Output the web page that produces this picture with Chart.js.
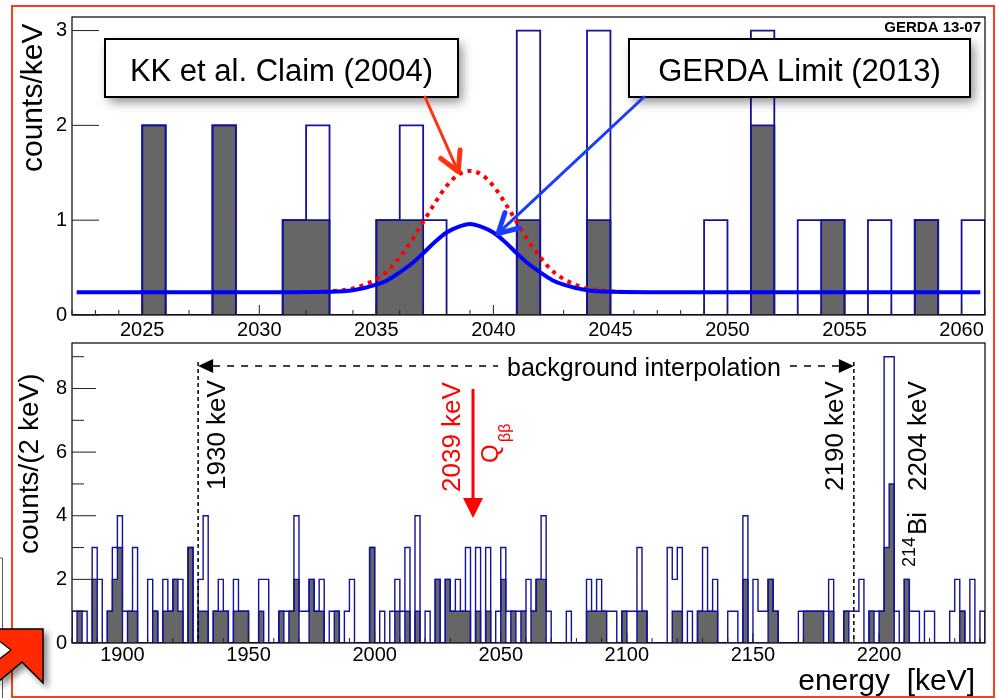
<!DOCTYPE html>
<html>
<head>
<meta charset="utf-8">
<title>GERDA 13-07</title>
<script src="https://cdn.jsdelivr.net/npm/chart.js@4.4.0/dist/chart.umd.min.js"></script>
<style>
  html, body { margin: 0; padding: 0; background: #fff; }
  #wrap { position: relative; width: 996px; height: 698px; overflow: hidden; }
  #wrap canvas { position: absolute; left: 0; top: 0; }
  #frame { position: absolute; left: 11px; top: 5px; width: 984px; height: 693px; box-sizing: border-box; border: 2.5px solid #ff3b1f; }
  #corner { position: absolute; left: 0; top: 540px; }
</style>
</head>
<body>
<div id="wrap">
  <canvas id="upper" width="996" height="698"></canvas>
  <canvas id="lower" width="996" height="698"></canvas>
  <div id="frame"></div>
  <svg id="corner" width="64" height="158" viewBox="0 0 64 158">
    <defs>
      <filter id="sh" x="-30%" y="-30%" width="180%" height="180%">
        <feDropShadow dx="4" dy="4" stdDeviation="3" flood-color="#000" flood-opacity="0.45"/>
      </filter>
    </defs>
    <polyline points="0,18 2.5,18 2.5,158" fill="none" stroke="#555" stroke-width="1"/>
    <polygon points="-2,89 43,89 43,143 22,122 -2,142" fill="#ff2a00" stroke="#000" stroke-width="1.5" filter="url(#sh)"/>
    <polygon points="-2,100 11,110 -2,120" fill="#fff" stroke="#000" stroke-width="1.2"/>
  </svg>
</div>
<script>
const FONT = "'Liberation Sans', Arial, Helvetica, sans-serif";
const NAVY = '#12129a';

// zoomed window around Q_bb, 1 keV bins
const zoomLo = 2022, zoomHi = 2061, zoomBin = 1;
const zoomAll = [0,0,0,2,0,0,2,0,0,1,2,0,0,1,2,1,0,0,0,3,0,0,3,0,0,0,0,1,0,3,0,1,1,0,1,0,1,0,1];
const zoomPSD = [0,0,0,2,0,0,2,0,0,1,1,0,0,1,1,0,0,0,0,1,0,0,1,0,0,0,0,0,0,2,0,0,1,0,0,0,1,0,0];

// full spectrum, 2 keV bins
const fullLo = 1880, fullHi = 2242, fullBin = 2;
const fullAll = [
  1,1,1,0,3,2,0,1,3,4, 1,1,3,0,0,2,1,0,2,1, 2,2,0,3,0,2,4,0,1,2, 1,0,2,1,1,0,0,2,2,0,
  0,1,1,1,4,1,1,2,1,2, 0,1,1,0,1,2,0,0,0,3, 0,1,0,1,2,1,3,0,4,0, 1,0,2,0,2,1,2,1,3,0,
  3,0,3,0,1,3,1,1,1,1, 2,1,2,4,1,0,0,0,1,0, 0,0,2,1,2,1,1,1,0,1, 1,1,3,1,0,0,0,0,3,2,
  3,0,1,0,1,3,1,2,0,0, 1,1,0,4,0,2,1,1,2,1, 0,0,0,0,1,1,1,1,1,1, 2,0,0,1,1,1,2,0,1,1,
  1,9,9,1,0,2,1,1,0,1, 1,0,0,0,1,2,1,0,2,0,1
];
const fullPSD = [
  0,1,0,0,2,0,0,1,2,3, 0,1,1,0,0,0,1,0,1,1, 2,1,0,3,0,1,1,0,1,1, 1,0,1,1,1,0,0,1,0,0,
  0,1,0,1,2,0,0,2,1,1, 0,0,1,0,0,0,0,0,0,3, 0,0,0,0,1,0,1,0,1,0, 0,0,2,0,2,1,1,1,1,0,
  1,0,1,0,0,2,0,1,0,1, 0,1,2,2,0,0,0,0,0,0, 0,0,1,1,1,1,0,0,0,1, 0,0,1,1,0,0,0,0,0,1,
  1,0,0,0,1,1,1,1,0,0, 0,0,0,2,0,0,0,0,2,1, 0,0,0,0,0,1,1,1,1,0, 1,0,0,1,0,0,0,0,1,0,
  1,3,5,0,0,2,0,0,0,0, 0,0,0,0,0,0,1,0,0,0,0
];

// background + signal expectations, counts/keV
const limitE = [2022.2,2030,2033,2034,2035,2035.5,2036,2036.5,2037,2037.5,2038,2038.5,2039,2039.5,2040,2040.5,2041,2041.5,2042,2042.5,2043,2044,2045,2048,2060.8];
const limitY = [0.24,0.24,0.245,0.26,0.32,0.37,0.45,0.54,0.65,0.77,0.87,0.93,0.96,0.93,0.87,0.77,0.65,0.54,0.45,0.37,0.32,0.26,0.245,0.24,0.24];
const claimE = [2032,2033,2034,2034.5,2035,2035.5,2036,2036.5,2037,2037.5,2038,2038.5,2039,2039.5,2040,2040.5,2041,2041.5,2042,2042.5,2043,2043.5,2044,2045,2046];
const claimY = [0.24,0.25,0.28,0.32,0.38,0.47,0.61,0.78,0.98,1.18,1.36,1.48,1.52,1.48,1.36,1.18,0.98,0.78,0.61,0.47,0.38,0.32,0.28,0.25,0.24];

const zoomTicks = [2025, 2030, 2035, 2040, 2045, 2050, 2055, 2060];
const zoomCountTicks = [0, 1, 2, 3];
const fullTicks = [1900, 1950, 2000, 2050, 2100, 2150, 2200];
const fullCountTicks = [0, 2, 4, 6, 8];
const fullCountMinor = [1, 3, 5, 7, 9];

Chart.defaults.font.family = FONT;
Chart.defaults.color = '#000';

// histogram outline as a stepped line: value i holds over [lo+i*w, lo+(i+1)*w]
function steps(lo, w, counts) {
  const pts = [{ x: lo, y: 0 }];
  counts.forEach((c, i) => pts.push({ x: lo + i * w, y: c }));
  pts.push({ x: lo + counts.length * w, y: 0 });
  return pts;
}
const pairs = (xs, ys) => xs.map((v, i) => ({ x: v, y: ys[i] }));

function histSets(lo, w, all, psd, width) {
  return [
    { data: steps(lo, w, all), stepped: true, borderColor: NAVY, borderWidth: width,
      pointRadius: 0, fill: false, order: 2 },
    { data: steps(lo, w, psd), stepped: true, borderColor: NAVY, borderWidth: width,
      backgroundColor: '#666666', pointRadius: 0, fill: 'origin', order: 3 }
  ];
}

// frame + inward ROOT style ticks
const frameTicks = {
  id: 'frameTicks',
  afterDatasetsDraw(chart, args, o) {
    const { ctx, chartArea: a, scales: { x, y } } = chart;
    ctx.save();
    ctx.strokeStyle = '#000';
    ctx.lineWidth = 1.2;
    ctx.strokeRect(a.left, a.top, a.right - a.left, a.bottom - a.top);
    ctx.strokeStyle = '#222';
    ctx.lineWidth = 1;
    ctx.beginPath();
    o.yMajor.forEach(v => { const p = y.getPixelForValue(v); ctx.moveTo(a.left, p); ctx.lineTo(a.left + o.yMajorLen, p); });
    o.yMinor.forEach(v => { const p = y.getPixelForValue(v); ctx.moveTo(a.left, p); ctx.lineTo(a.left + o.yMinorLen, p); });
    for (let v = Math.ceil(x.min / o.xMinorStep) * o.xMinorStep; v <= x.max; v += o.xMinorStep) {
      const p = x.getPixelForValue(v);
      const len = o.xMajor.includes(v) ? o.xMajorLen : o.xMinorLen;
      ctx.moveTo(p, a.bottom);
      ctx.lineTo(p, a.bottom - len);
    }
    ctx.stroke();
    ctx.restore();
  }
};

function upText(ctx, text, px, py, font, color) {
  ctx.save();
  ctx.translate(px, py);
  ctx.rotate(-Math.PI / 2);
  ctx.font = font;
  ctx.fillStyle = color;
  ctx.textAlign = 'left';
  ctx.textBaseline = 'alphabetic';
  ctx.fillText(text, 0, 0);
  ctx.restore();
}

function labelBox(ctx, bx, by, bw, bh, text) {
  ctx.save();
  ctx.shadowColor = 'rgba(0,0,0,0.45)';
  ctx.shadowBlur = 10;
  ctx.shadowOffsetX = 4;
  ctx.shadowOffsetY = 5;
  ctx.fillStyle = '#fff';
  ctx.fillRect(bx, by, bw, bh);
  ctx.restore();
  ctx.save();
  ctx.strokeStyle = '#000';
  ctx.lineWidth = 2;
  ctx.strokeRect(bx, by, bw, bh);
  ctx.font = `31px ${FONT}`;
  ctx.fillStyle = '#000';
  ctx.textAlign = 'center';
  ctx.textBaseline = 'alphabetic';
  ctx.fillText(text, bx + bw / 2, by + 42);
  ctx.restore();
}

function vArrow(ctx, x0, y0, x1, y1, color) {
  const ang = Math.atan2(y1 - y0, x1 - x0);
  ctx.save();
  ctx.strokeStyle = color;
  ctx.lineCap = 'round';
  ctx.lineJoin = 'round';
  ctx.lineWidth = 3;
  ctx.beginPath();
  ctx.moveTo(x0, y0);
  ctx.lineTo(x1, y1);
  ctx.stroke();
  ctx.lineWidth = 5;
  ctx.beginPath();
  ctx.moveTo(x1 - 22 * Math.cos(ang - 0.5), y1 - 22 * Math.sin(ang - 0.5));
  ctx.lineTo(x1, y1);
  ctx.lineTo(x1 - 22 * Math.cos(ang + 0.5), y1 - 22 * Math.sin(ang + 0.5));
  ctx.stroke();
  ctx.restore();
}

function fillTri(ctx, pts) {
  ctx.beginPath();
  ctx.moveTo(pts[0], pts[1]);
  ctx.lineTo(pts[2], pts[3]);
  ctx.lineTo(pts[4], pts[5]);
  ctx.closePath();
  ctx.fill();
}

const zoomNotes = {
  id: 'zoomNotes',
  afterDraw(chart) {
    const { ctx, chartArea: a, scales: { x, y } } = chart;
    upText(ctx, 'counts/keV', 42, 172, `30px ${FONT}`, '#000');
    ctx.save();
    ctx.font = `bold 15px ${FONT}`;
    ctx.fillStyle = '#000';
    ctx.textAlign = 'right';
    ctx.fillText('GERDA 13-07', a.right - 4, a.top + 15);
    ctx.restore();
    labelBox(ctx, 105, 39, 353, 58, 'KK et al. Claim (2004)');
    labelBox(ctx, 629, 39, 341, 58, 'GERDA Limit (2013)');
    vArrow(ctx, 425, 97, x.getPixelForValue(2038.5), y.getPixelForValue(1.51), '#ff3311');
    vArrow(ctx, 644, 97, x.getPixelForValue(2040.2), y.getPixelForValue(0.86), '#1a3cff');
  }
};

const fullNotes = {
  id: 'fullNotes',
  afterDraw(chart) {
    const { ctx, chartArea: a, scales: { x } } = chart;
    const xl = x.getPixelForValue(1930), xr = x.getPixelForValue(2190), xq = x.getPixelForValue(2039);
    const yTop = a.top + 19, yArr = a.top + 23;
    ctx.save();
    ctx.strokeStyle = '#000';
    ctx.fillStyle = '#000';
    ctx.lineWidth = 1.5;
    ctx.setLineDash([4, 3]);
    ctx.beginPath();
    [xl, xr].forEach(p => { ctx.moveTo(p, yTop); ctx.lineTo(p, a.bottom); });
    ctx.stroke();
    ctx.setLineDash([7, 7]);
    ctx.beginPath();
    ctx.moveTo(xl + 15, yArr); ctx.lineTo(498, yArr);
    ctx.moveTo(790, yArr); ctx.lineTo(xr - 15, yArr);
    ctx.stroke();
    ctx.setLineDash([]);
    fillTri(ctx, [xl, yArr, xl + 15, yArr - 7, xl + 15, yArr + 7]);
    fillTri(ctx, [xr, yArr, xr - 15, yArr - 7, xr - 15, yArr + 7]);
    ctx.font = `25px ${FONT}`;
    ctx.textAlign = 'left';
    ctx.fillText('background interpolation', 507, 376);
    ctx.restore();

    upText(ctx, '1930 keV', xl + 27, 490, `26px ${FONT}`, '#000');
    upText(ctx, '2190 keV', xr - 11, 491, `26px ${FONT}`, '#000');
    upText(ctx, '2204 keV', xr + 72, 491, `26px ${FONT}`, '#000');
    upText(ctx, '214', xr + 61, 567, `18px ${FONT}`, '#000');
    upText(ctx, 'Bi', xr + 72, 535, `26px ${FONT}`, '#000');

    upText(ctx, '2039 keV', xq - 13, 492, `26px ${FONT}`, '#ff0000');
    upText(ctx, 'Q', xq + 25, 463, `24px ${FONT}`, '#ff0000');
    upText(ctx, 'ββ', xq + 37, 442, `16px ${FONT}`, '#ff0000');
    ctx.save();
    ctx.strokeStyle = '#ff0000';
    ctx.fillStyle = '#ff0000';
    ctx.lineWidth = 3;
    ctx.beginPath();
    ctx.moveTo(xq, 389);
    ctx.lineTo(xq, 500);
    ctx.stroke();
    fillTri(ctx, [xq, 518, xq - 10, 498, xq + 10, 498]);
    ctx.restore();

    upText(ctx, 'counts/(2 keV)', 38, 554, `28px ${FONT}`, '#000');
    ctx.save();
    ctx.font = `30px ${FONT}`;
    ctx.fillStyle = '#000';
    ctx.textAlign = 'right';
    ctx.fillText('energy  [keV]', 975, 690);
    ctx.restore();
  }
};

function fixedTicks(values) {
  return scale => { scale.ticks = values.map(v => ({ value: v })); };
}

new Chart(document.getElementById('upper'), {
  type: 'line',
  data: {
    datasets: [
      { data: pairs(limitE, limitY), borderColor: '#0000ff', borderWidth: 4, pointRadius: 0,
        cubicInterpolationMode: 'monotone', fill: false, order: 0 },
      { data: pairs(claimE, claimY), borderColor: '#ff0000', borderWidth: 4, borderDash: [4, 5],
        pointRadius: 0, cubicInterpolationMode: 'monotone', fill: false, order: 1 },
      ...histSets(zoomLo, zoomBin, zoomAll, zoomPSD, 1.8)
    ]
  },
  options: {
    responsive: false,
    animation: false,
    devicePixelRatio: 1,
    events: [],
    layout: { padding: { top: 12, right: 11, bottom: 353, left: 0 } },
    scales: {
      x: {
        type: 'linear', min: zoomLo, max: zoomHi,
        grid: { display: false, drawTicks: false }, border: { display: false },
        afterFit: s => { s.height = 30; },
        afterBuildTicks: fixedTicks(zoomTicks),
        ticks: { font: { size: 20 }, color: '#000', padding: 3, maxRotation: 0, autoSkip: false, callback: v => String(v) }
      },
      y: {
        min: 0, max: 3.143,
        grid: { display: false, drawTicks: false }, border: { display: false },
        afterFit: s => { s.width = 72; },
        afterBuildTicks: fixedTicks(zoomCountTicks),
        ticks: { font: { size: 20 }, color: '#000', padding: 5, callback: v => String(v) }
      }
    },
    plugins: {
      legend: { display: false },
      tooltip: { enabled: false },
      frameTicks: { yMajor: zoomCountTicks, yMajorLen: 27, yMinor: [], yMinorLen: 0,
                    xMajor: zoomTicks, xMajorLen: 10, xMinorStep: 1, xMinorLen: 5 }
    }
  },
  plugins: [frameTicks, zoomNotes]
});

new Chart(document.getElementById('lower'), {
  type: 'line',
  data: { datasets: histSets(fullLo, fullBin, fullAll, fullPSD, 1.4) },
  options: {
    responsive: false,
    animation: false,
    devicePixelRatio: 1,
    events: [],
    layout: { padding: { top: 343, right: 11, bottom: 0, left: 0 } },
    scales: {
      x: {
        type: 'linear', min: fullLo, max: fullHi,
        grid: { display: false, drawTicks: false }, border: { display: false },
        afterFit: s => { s.height = 55; },
        afterBuildTicks: fixedTicks(fullTicks),
        ticks: { font: { size: 20 }, color: '#000', padding: 0, maxRotation: 0, autoSkip: false, callback: v => String(v) }
      },
      y: {
        min: 0, max: 9.43,
        grid: { display: false, drawTicks: false }, border: { display: false },
        afterFit: s => { s.width = 72; },
        afterBuildTicks: fixedTicks(fullCountTicks),
        ticks: { font: { size: 20 }, color: '#000', padding: 5, callback: v => String(v) }
      }
    },
    plugins: {
      legend: { display: false },
      tooltip: { enabled: false },
      frameTicks: { yMajor: fullCountTicks, yMajorLen: 24, yMinor: fullCountMinor, yMinorLen: 12,
                    xMajor: fullTicks, xMajorLen: 10, xMinorStep: 10, xMinorLen: 5 }
    }
  },
  plugins: [frameTicks, fullNotes]
});
</script>
</body>
</html>
